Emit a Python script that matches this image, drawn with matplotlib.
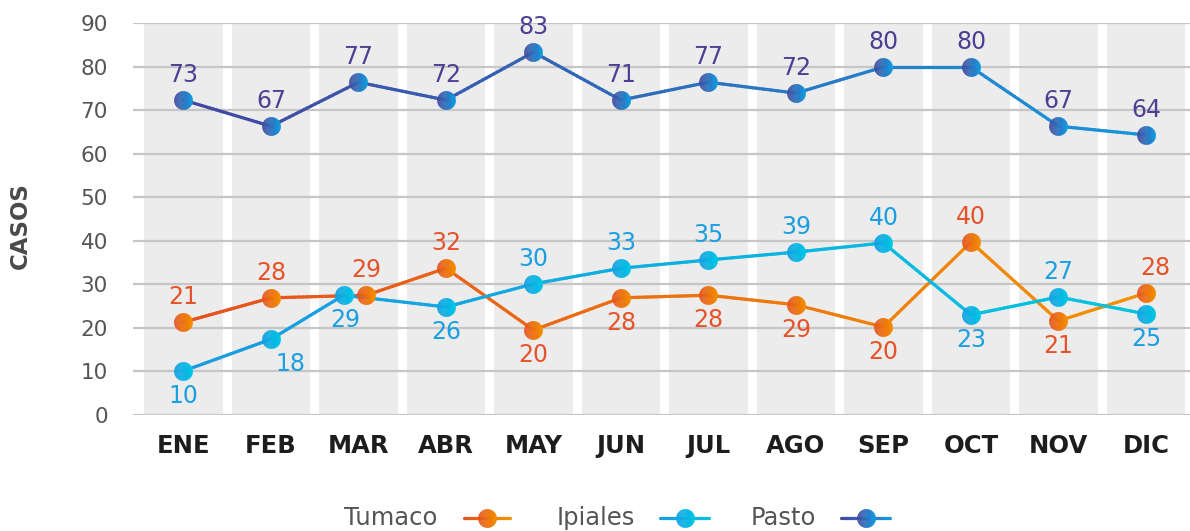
import numpy as np
import matplotlib
matplotlib.use("Agg")
import matplotlib.pyplot as plt
from matplotlib.path import Path
from matplotlib.markers import MarkerStyle
from matplotlib.collections import LineCollection
from matplotlib.lines import Line2D
from matplotlib.colors import to_rgb

plt.rcParams['font.family'] = ['DejaVu Sans']

# ---------------- data ----------------
months = ["ENE", "FEB", "MAR", "ABR", "MAY", "JUN", "JUL", "AGO", "SEP", "OCT", "NOV", "DIC"]

# plotted positions (as drawn in the reference)
tumaco_y = [21.3, 26.9, 27.5, 33.7, 19.5, 26.9, 27.5, 25.3, 20.2, 39.7, 21.6, 28.0]
ipiales_y = [10.1, 17.4, 27.5, 24.8, 30.1, 33.7, 35.6, 37.4, 39.5, 23.0, 27.1, 23.2]
pasto_y = [72.3, 66.3, 76.4, 72.3, 83.3, 72.3, 76.4, 73.9, 79.9, 79.9, 66.3, 64.3]

# printed labels
tumaco_lbl = [21, 28, 29, 32, 20, 28, 28, 29, 20, 40, 21, 28]
ipiales_lbl = [10, 18, 29, 26, 30, 33, 35, 39, 40, 23, 27, 25]
pasto_lbl = [73, 67, 77, 72, 83, 71, 77, 72, 80, 80, 67, 64]

series_names = ["Tumaco", "Ipiales", "Pasto"]

# ---------------- styles ----------------
# label placement: +1 above, -1 below ; dx in pixels
tumaco_pos = [1, 1, 1, 1, -1, -1, -1, -1, -1, 1, -1, 1]
tumaco_dx = [0, 0, 0, 0, 0, 0, 0, 0, 0, 0, 0, 9]
ipiales_pos = [-1, -1, -1, -1, 1, 1, 1, 1, 1, -1, 1, -1]
ipiales_dx = [0, 19, 2, 0, 0, 0, 0, 0, 0, 0, 0, 0]
pasto_pos = [1] * 12
pasto_dx = [0] * 12
# horizontal dodge (category units) where markers overlap
tumaco_dodge = [0, 0, 0.09, 0, 0, 0, 0, 0, 0, 0, 0, 0]
ipiales_dodge = [0, 0, -0.17, 0, 0, 0, 0, 0, 0, 0, 0, 0]
pasto_dodge = [0] * 12

grad = {
    "Tumaco": ("#e6501f", "#f39200"),
    "Ipiales": ("#129ee3", "#00c8e4"),
    "Pasto": ("#45479c", "#119fe2"),
}
line_grad = {
    "Tumaco": ("#e6501f", "#f39200"),
    "Ipiales": ("#1a9be0", "#00c4e0"),
    "Pasto": ("#4347a0", "#1895da"),
}
lbl_color = {"Tumaco": "#e6532a", "Ipiales": "#1b9fe0", "Pasto": "#4e3f94"}

W, H = 1190, 531
fig = plt.figure(figsize=(W / 100, H / 100), dpi=100)
fig.patch.set_facecolor("white")

ax = fig.add_axes([133 / W, 1 - 415 / H, (1190 - 133) / W, (415 - 23) / H])
x = np.arange(len(months))
ax.set_xlim(-0.5 - 6.75 / 87.5, 11.503)
ax.set_ylim(0, 90)

# background bands
ax.bar(x, [90] * len(months), width=0.9, color="#ececec", zorder=0)
ax.set_yticks(np.arange(0, 91, 10))
ax.yaxis.grid(True, color="#c6c6c6", linewidth=1.6)
ax.set_axisbelow(True)
for s in ax.spines.values():
    s.set_visible(False)
ax.tick_params(axis="both", length=0)
ax.tick_params(axis="y", pad=18, labelsize=15.5, labelcolor="#555555")
ax.set_xticks(x)
ax.set_xticklabels(months, fontsize=17.5, fontweight="bold", color="#1d1d1b")
ax.tick_params(axis="x", pad=14)

fig.text(20 / W, 1 - 226 / H, "CASOS", rotation=90, fontsize=16.5, fontweight="bold",
         color="#4a4a4a", ha="center", va="center")


def strip_markers(n=18):
    paths = []
    for i in range(n):
        x0 = -1 + 2 * i / n
        x1 = min(1.0, -1 + 2 * (i + 1) / n + 0.04)
        xs = np.linspace(x0, x1, 12)
        top = np.sqrt(np.clip(1 - xs ** 2, 0, None))
        verts = [(1, 1)] + list(zip(xs, top)) + list(zip(xs[::-1], -top[::-1])) + [(x0, top[0])]
        codes = [Path.MOVETO, Path.MOVETO] + [Path.LINETO] * (len(verts) - 3) + [Path.CLOSEPOLY]
        paths.append(Path(np.array(verts, float), codes))
    return paths


STRIPS = strip_markers()


def strip_colors(c0, c1, n):
    a, b = np.array(to_rgb(c0)), np.array(to_rgb(c1))
    return [tuple(a + (b - a) * (i + 0.5) / n) for i in range(n)]


def draw_markers(axis, xs, ys, name, ms, zorder=5):
    cols = strip_colors(*grad[name], len(STRIPS))
    for p, c in zip(STRIPS, cols):
        axis.plot(xs, ys, linestyle="none", marker=MarkerStyle(p), markersize=ms, color=c,
                  markeredgewidth=0, zorder=zorder)


def gradient_line(axis, xs, ys, name, lw, transform=None, zorder=3, x_range=None):
    xs = np.asarray(xs, float)
    ys = np.asarray(ys, float)
    segs, cols = [], []
    c0, c1 = np.array(to_rgb(line_grad[name][0])), np.array(to_rgb(line_grad[name][1]))
    lo, hi = (xs.min(), xs.max()) if x_range is None else x_range
    for i in range(len(xs) - 1):
        t = np.linspace(0, 1, 25)
        px = xs[i] + (xs[i + 1] - xs[i]) * t
        py = ys[i] + (ys[i + 1] - ys[i]) * t
        for j in range(len(t) - 1):
            segs.append([(px[j], py[j]), (px[j + 1], py[j + 1])])
            f = ((px[j] + px[j + 1]) / 2 - lo) / (hi - lo)
            cols.append(tuple(c0 + (c1 - c0) * f))
    kw = dict(colors=cols, linewidths=lw, capstyle="round", joinstyle="round", zorder=zorder)
    if transform is not None:
        kw["transform"] = transform
    lc = LineCollection(segs, **kw)
    axis.add_collection(lc) if transform is None else fig.add_artist(lc)


series = [
    ("Tumaco", tumaco_y, tumaco_lbl, tumaco_pos, tumaco_dx, tumaco_dodge),
    ("Ipiales", ipiales_y, ipiales_lbl, ipiales_pos, ipiales_dx, ipiales_dodge),
    ("Pasto", pasto_y, pasto_lbl, pasto_pos, pasto_dx, pasto_dodge),
]

MS = 13.5
LW = 2.3
for k, (name, ys, lbls, pos, dx, dodge) in enumerate(series):
    xs = x + np.array(dodge)
    gradient_line(ax, xs, ys, name, LW, zorder=3 + k * 0.1)
for k, (name, ys, lbls, pos, dx, dodge) in enumerate(series):
    xs = x + np.array(dodge)
    draw_markers(ax, xs, ys, name, MS, zorder=5 + k * 0.1)
    for xi, yi, l, p, d in zip(xs, ys, lbls, pos, dx):
        ax.annotate(str(l), (xi, yi), xytext=(d * 0.72, p * 25 * 0.72),
                    textcoords="offset points", ha="center", va="center",
                    fontsize=17, color=lbl_color[name], zorder=6, annotation_clip=False)

# ---------------- legend (manual) ----------------
ft = fig.transFigure
leg_y = 1 - 518 / H
legend_items = [("Tumaco", 344, 464, 510), ("Ipiales", 557, 660, 709), ("Pasto", 751, 841, 890)]
for name, tx, l0, l1 in legend_items:
    fig.text(tx / W, leg_y, name, fontsize=17.5, color="#555555", ha="left", va="center")
    gradient_line(fig, [l0 / W, l1 / W], [leg_y, leg_y], name, LW, transform=ft, zorder=3,
                  x_range=(l0 / W, l1 / W))
    cols = strip_colors(*grad[name], len(STRIPS))
    for p, c in zip(STRIPS, cols):
        fig.add_artist(Line2D([(l0 + l1) / 2 / W], [leg_y], transform=ft, linestyle="none",
                              marker=MarkerStyle(p), markersize=MS, color=c,
                              markeredgewidth=0, zorder=5))

fig.savefig("out.png", dpi=100, facecolor="white")
